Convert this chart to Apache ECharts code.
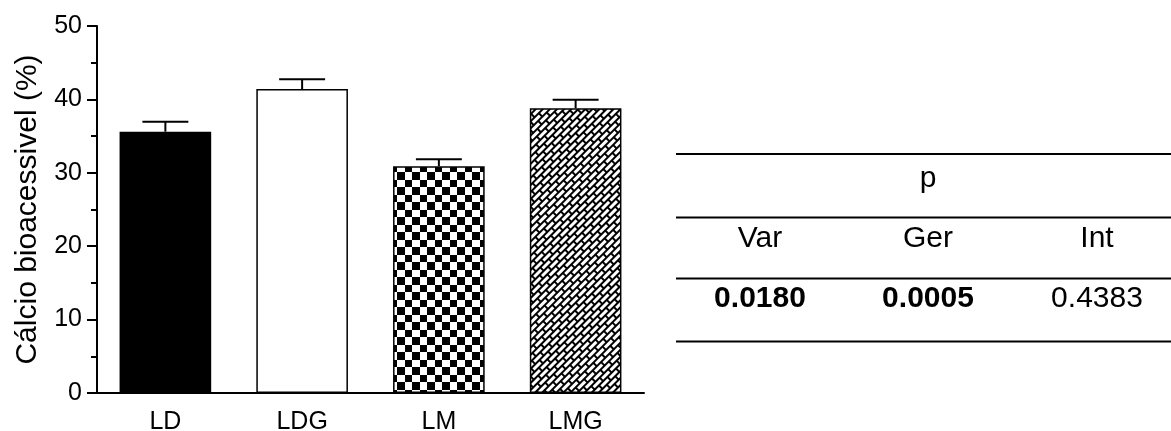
<!DOCTYPE html>
<html>
<head>
<meta charset="utf-8">
<script src="https://cdn.jsdelivr.net/npm/echarts@6/dist/echarts.min.js"></script>
<style>
html,body{margin:0;padding:0;background:#fff;}
#chart{width:1171px;height:431px;}
</style>
</head>
<body>
<div id="chart"></div>
<script>
// ---- data ----
const categories = ['LD', 'LDG', 'LM', 'LMG'];
const means = [35.6, 41.4, 30.9, 38.8];
const errors = [1.35, 1.35, 0.95, 1.15];
const yTicks = [0, 10, 20, 30, 40, 50];
const tableHeader = 'p';
const tableColumns = ['Var', 'Ger', 'Int'];
const tableValues = ['0.0180', '0.0005', '0.4383'];
const tableBold = [true, true, false];

// ---- patterns ----
function checkerTile() {
  const c = document.createElement('canvas');
  c.width = 15; c.height = 15;
  const g = c.getContext('2d');
  g.fillStyle = '#fff'; g.fillRect(0, 0, 15, 15);
  g.fillStyle = '#000';
  g.fillRect(0, 0, 7, 7);
  g.fillRect(7, 7, 8, 8);
  return c;
}
function brickTile() {
  const L = 12, h = 5;
  const c = document.createElement('canvas');
  c.width = L; c.height = 2 * h;
  const g = c.getContext('2d');
  g.fillStyle = '#fff'; g.fillRect(0, 0, L, 2 * h);
  g.fillStyle = '#000';
  g.fillRect(0, 0, L, 2);
  g.fillRect(0, h, L, 2);
  g.fillRect(0, 0, 2, h);
  g.fillRect(L / 2, h, 2, h);
  return c;
}
const fills = [
  '#000',
  '#fff',
  { image: checkerTile(), repeat: 'repeat' },
  { image: brickTile(), repeat: 'repeat', rotation: -Math.PI / 4 }
];

const FONT = '"Liberation Sans", Arial, Helvetica, sans-serif';

const chart = echarts.init(document.getElementById('chart'));

const tableX = [760, 928, 1097];
const graphics = [];
[154, 217.5, 278.5, 341.5].forEach(function (y) {
  graphics.push({
    type: 'line', silent: true,
    shape: { x1: 676, y1: y, x2: 1171, y2: y },
    style: { stroke: '#000', lineWidth: 2 }
  });
});
graphics.push({
  type: 'text', x: 928, y: 179,
  style: { text: tableHeader, font: '30px ' + FONT, fill: '#000', align: 'center', verticalAlign: 'middle' }
});
tableColumns.forEach(function (t, i) {
  graphics.push({
    type: 'text', x: tableX[i], y: 238.5,
    style: { text: t, font: '30px ' + FONT, fill: '#000', align: 'center', verticalAlign: 'middle' }
  });
});
tableValues.forEach(function (t, i) {
  graphics.push({
    type: 'text', x: tableX[i], y: 298.5,
    style: { text: t, font: (tableBold[i] ? 'bold ' : '') + '30px ' + FONT, fill: '#000', align: 'center', verticalAlign: 'middle' }
  });
});

const option = {
  animation: false,
  backgroundColor: '#fff',
  grid: { left: 97, right: 527, top: 26, bottom: 38, containLabel: false, outerBoundsMode: 'none' },
  xAxis: {
    type: 'category',
    data: categories,
    axisLine: { lineStyle: { color: '#000', width: 2 } },
    axisTick: { show: false },
    axisLabel: { color: '#000', fontSize: 25, fontFamily: FONT, margin: 17 },
    splitLine: { show: false }
  },
  yAxis: {
    type: 'value',
    min: 0, max: 50, interval: 10,
    name: 'Cálcio bioacessivel (%)',
    nameLocation: 'middle',
    nameGap: 54,
    nameTextStyle: { color: '#000', fontSize: 30, fontFamily: FONT },
    axisLine: { show: true, lineStyle: { color: '#000', width: 2 } },
    axisTick: { show: true, inside: false, length: 10, lineStyle: { color: '#000', width: 2 } },
    minorTick: { show: true, splitNumber: 2, length: 6, lineStyle: { color: '#000', width: 2 } },
    axisLabel: {
      color: '#000', fontSize: 25, fontFamily: FONT, margin: 15,
      formatter: function (v) { return yTicks.indexOf(v) >= 0 ? String(v) : ''; }
    },
    splitLine: { show: false }
  },
  series: [
    {
      type: 'bar',
      barWidth: '67%',
      data: means.map(function (v, i) {
        return { value: v, itemStyle: { color: fills[i] } };
      }),
      itemStyle: { borderColor: '#000', borderWidth: 1.5 },
      silent: true
    },
    {
      type: 'custom',
      silent: true,
      data: means.map(function (v, i) { return [i, v, v + errors[i]]; }),
      renderItem: function (params, api) {
        const i = api.value(0);
        const base = api.coord([i, api.value(1)]);
        const top = api.coord([i, api.value(2)]);
        const half = api.size([1, 0])[0] * 0.168;
        return {
          type: 'group',
          children: [
            { type: 'line', shape: { x1: base[0], y1: base[1], x2: top[0], y2: top[1] }, style: { stroke: '#000', lineWidth: 2 } },
            { type: 'line', shape: { x1: top[0] - half, y1: top[1], x2: top[0] + half, y2: top[1] }, style: { stroke: '#000', lineWidth: 2 } }
          ]
        };
      },
      z: 3
    }
  ],
  graphic: graphics
};
chart.setOption(option);
</script>
</body>
</html>
